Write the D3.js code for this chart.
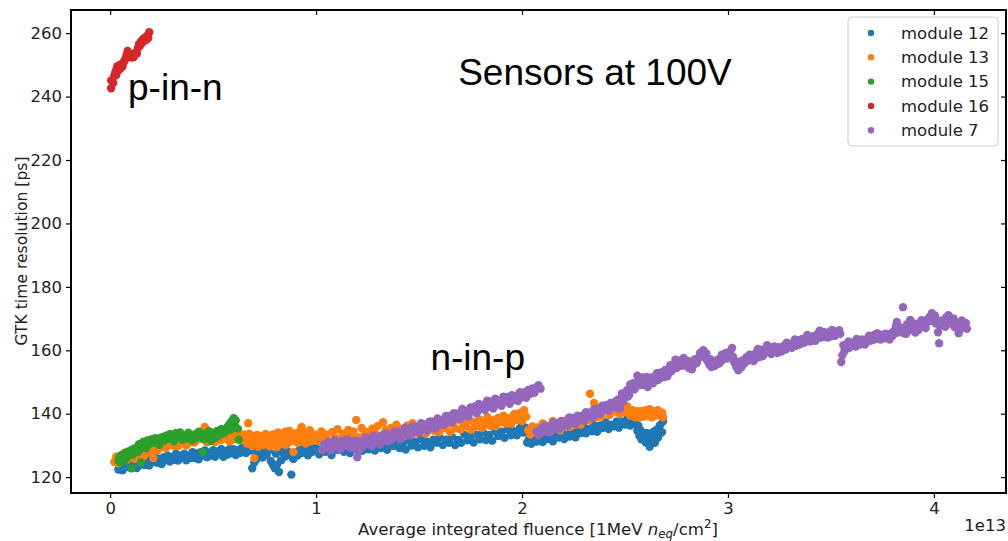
<!DOCTYPE html>
<html>
<head>
<meta charset="utf-8">
<script src="https://cdn.jsdelivr.net/npm/d3@7"></script>
<style>
  body { margin: 0; background: #fff; }
  svg { display: block; }
</style>
</head>
<body>
<svg id="chart" width="1008" height="541"></svg>
<script>
// Axis ticks
const xTicks = [0, 1, 2, 3, 4];
const yTicks = [120, 140, 160, 180, 200, 220, 240, 260];

// Series names (legend order = drawing order)
const seriesNames = ["module 12", "module 13", "module 15", "module 16", "module 7"];

// [average integrated fluence (1e13 1MeV neq/cm^2), GTK time resolution (ps)]
const module12 = [
  [0.04,122.4],[0.05,124.0],[0.06,122.2],[0.07,123.8],[0.08,123.2],[0.09,124.9],[0.10,122.9],[0.11,124.1],[0.12,125.0],[0.13,122.9],
  [0.14,124.8],[0.15,123.9],[0.16,125.8],[0.17,123.8],[0.18,124.8],[0.19,123.7],[0.20,125.8],[0.21,124.8],[0.22,126.3],[0.23,124.5],
  [0.24,125.7],[0.25,124.1],[0.26,126.3],[0.27,125.5],[0.28,126.8],[0.29,124.9],[0.30,126.2],[0.31,125.5],[0.32,127.4],[0.33,125.2],
  [0.34,126.8],[0.35,126.0],[0.36,127.4],[0.37,125.3],[0.38,126.8],[0.39,126.0],[0.40,127.9],[0.41,126.0],[0.42,127.4],[0.43,125.6],
  [0.44,127.9],[0.45,126.9],[0.46,128.4],[0.47,126.3],[0.48,127.6],[0.49,126.8],[0.50,128.5],[0.51,126.4],[0.52,128.1],[0.53,127.3],
  [0.54,128.9],[0.55,126.4],[0.56,128.2],[0.57,127.1],[0.58,128.9],[0.59,127.5],[0.60,128.8],[0.61,127.0],[0.62,128.4],[0.63,127.6],
  [0.64,129.3],[0.65,128.0],
  [0.66,127.6],[0.67,128.9],[0.68,128.4],[0.69,122.8],[0.70,124.6],[0.705,127.9],[0.71,125.6],[0.72,127.3],[0.73,128.6],[0.74,126.2],
  [0.75,127.9],[0.76,127.0],[0.77,128.4],[0.78,125.1],[0.79,124.0],[0.80,122.8],[0.805,127.4],[0.81,123.9],[0.82,121.6],[0.825,128.3],
  [0.83,125.3],[0.84,127.6],[0.85,126.5],[0.86,128.2],[0.87,127.1],[0.88,120.8],[0.885,126.2],[0.89,125.7],[0.90,127.8],[0.91,126.8],
  [0.92,128.6],[0.93,127.6],[0.94,129.0],[0.95,128.0],[0.96,126.9],[0.97,128.8],[0.98,127.9],[0.99,129.2],
  [1.000,129.2],[1.015,127.2],[1.03,128.7],[1.045,128.0],[1.06,129.9],[1.075,127.0],[1.09,129.3],[1.105,128.6],[1.12,130.0],[1.135,128.0],
  [1.15,129.2],[1.165,127.6],[1.18,130.0],[1.195,128.8],[1.21,130.6],[1.225,128.3],[1.24,129.6],[1.255,128.8],[1.27,131.2],[1.285,128.4],
  [1.30,130.2],[1.315,129.2],[1.33,130.9],[1.345,128.6],[1.36,130.7],[1.375,129.8],[1.39,131.7],[1.405,129.2],[1.42,130.5],[1.435,128.7],
  [1.45,131.5],[1.465,130.0],[1.48,131.1],[1.495,129.4],[1.51,132.0],[1.525,129.9],[1.54,131.1],[1.555,129.4],[1.57,131.8],[1.585,130.8],
  [1.60,132.5],[1.615,130.1],[1.63,131.8],[1.645,130.8],[1.66,132.7],[1.675,130.1],[1.69,131.7],[1.705,130.8],[1.72,133.4],[1.735,131.6],
  [1.75,132.9],[1.765,130.9],[1.78,133.4],[1.795,131.9],[1.81,134.2],[1.825,131.7],[1.84,133.3],[1.855,131.5],[1.87,134.3],[1.885,133.0],
  [1.90,134.3],[1.915,132.4],[1.93,135.1],[1.945,133.2],[1.96,134.5],[1.975,133.2],[1.99,135.5],[2.005,134.1],[2.015,135.7],
  [2.025,130.9],[2.035,132.3],[2.045,130.5],[2.06,131.9],[2.07,131.2],[2.085,133.0],[2.10,131.1],[2.11,132.5],[2.125,132.0],[2.14,133.5],
  [2.15,131.3],[2.165,133.2],[2.18,132.5],[2.19,134.2],[2.205,132.0],[2.22,133.5],[2.23,132.8],[2.245,134.6],[2.26,132.6],[2.27,134.5],
  [2.285,133.9],[2.30,135.8],[2.31,133.8],[2.325,135.2],[2.34,134.5],[2.35,136.4],[2.365,134.3],[2.38,136.3],[2.39,135.5],[2.405,137.3],
  [2.42,135.2],[2.43,136.5],[2.445,136.0],[2.46,137.6],[2.47,135.6],[2.485,137.4],[2.50,136.6],[2.51,138.3],[2.525,136.3],[2.54,138.0],
  [2.55,136.8],[2.56,134.6],[2.565,136.2],[2.57,133.0],[2.575,134.8],[2.58,131.9],[2.59,133.8],[2.595,132.4],[2.60,131.0],[2.605,133.9],
  [2.61,132.6],[2.615,130.6],[2.62,129.6],[2.625,131.8],[2.63,131.4],[2.635,134.2],[2.64,133.2],[2.645,130.8],[2.65,134.8],[2.655,132.6],
  [2.66,132.4],[2.665,135.6],[2.67,136.4],[2.675,134.0],[2.68,134.2],[2.685,137.6]
];

const module13 = [
  [0.02,124.8],[0.03,126.5],[0.04,124.4],[0.05,126.3],[0.06,125.9],[0.07,127.7],[0.08,125.4],[0.09,127.4],[0.10,126.2],[0.11,128.7],
  [0.12,125.8],[0.13,127.8],[0.14,127.3],[0.15,129.3],[0.16,126.4],[0.165,130.7],[0.17,129.0],[0.18,127.7],[0.19,129.9],[0.20,128.5],
  [0.21,126.0],[0.22,130.3],[0.23,128.4],[0.24,130.3],[0.25,129.6],[0.26,131.6],[0.27,129.2],[0.28,131.2],[0.29,130.3],[0.30,132.4],
  [0.31,129.9],[0.32,131.2],[0.33,129.7],[0.34,133.4],[0.35,130.9],[0.36,132.3],[0.37,130.0],[0.38,132.9],[0.39,131.1],[0.40,132.4],
  [0.41,130.9],[0.42,133.6],[0.43,131.9],[0.44,133.1],[0.45,134.6],[0.46,135.8],[0.47,131.0],[0.48,133.0],[0.49,131.6],[0.50,134.0],
  [0.51,131.1],[0.52,132.9],[0.53,134.5],[0.54,131.7],[0.55,133.4],[0.56,132.3],[0.57,134.1],[0.58,131.2],[0.59,133.3],[0.60,131.9],
  [0.61,134.7],[0.62,132.6],[0.63,133.8],[0.64,131.8],[0.65,133.4],
  [0.66,132.2],[0.665,130.6],[0.67,137.0],[0.675,133.7],[0.68,131.4],[0.69,129.8],[0.695,133.0],[0.70,126.0],[0.705,131.9],[0.71,130.2],
  [0.715,133.3],[0.72,129.6],[0.73,131.4],[0.735,132.8],[0.74,130.1],[0.75,131.6],[0.755,133.6],[0.76,130.4],[0.77,132.4],[0.775,129.7],
  [0.78,131.3],[0.79,133.5],[0.795,130.6],[0.80,132.0],[0.81,129.4],[0.815,134.1],[0.82,132.9],[0.83,130.5],[0.835,133.2],[0.84,131.6],
  [0.85,134.3],[0.855,130.2],[0.86,132.3],[0.87,134.6],[0.875,131.2],[0.88,133.3],[0.89,127.9],[0.895,131.6],[0.90,133.8],[0.91,130.8],
  [0.915,132.7],[0.92,134.4],[0.93,135.8],[0.935,131.4],[0.94,133.1],[0.95,130.6],[0.955,134.0],[0.96,132.2],[0.97,134.8],[0.975,131.3],
  [0.98,133.4],[0.99,132.0],
  [1.000,133.4],[1.013,131.3],[1.026,134.4],[1.039,132.5],[1.052,133.4],[1.065,131.1],[1.078,134.2],[1.091,132.4],[1.104,135.1],[1.117,132.0],
  [1.13,133.6],[1.143,131.7],[1.156,134.9],[1.169,133.0],[1.182,134.4],[1.195,138.0],[1.208,132.5],[1.221,135.5],[1.234,133.2],[1.247,134.2],
  [1.26,132.2],[1.273,135.3],[1.286,133.8],[1.299,136.1],[1.312,132.9],[1.325,137.3],[1.338,134.9],[1.351,132.9],[1.364,135.5],[1.377,134.1],
  [1.39,136.5],[1.403,133.6],[1.416,135.2],[1.429,133.0],[1.442,136.2],[1.455,134.4],[1.468,137.0],[1.481,133.8],[1.494,135.8],[1.507,134.8],
  [1.52,136.8],[1.533,133.7],[1.546,135.7],[1.559,137.6],[1.572,134.6],[1.585,136.5],[1.598,134.2],[1.611,137.5],[1.624,135.5],[1.637,136.7],
  [1.65,134.2],[1.663,137.3],[1.676,135.4],[1.689,138.1],[1.702,135.0],[1.715,136.8],[1.728,136.0],[1.741,138.0],[1.754,134.9],[1.767,137.3],
  [1.78,136.1],[1.793,138.2],[1.806,135.6],[1.819,137.2],[1.832,138.9],[1.845,136.2],[1.858,137.9],[1.871,136.0],[1.884,138.7],[1.897,137.3],
  [1.91,139.4],[1.923,136.9],[1.936,138.5],[1.949,136.8],[1.962,139.9],[1.975,138.1],[1.988,140.2],[2.00,137.7],[2.01,141.1],[2.02,139.1],
  [2.03,134.8],[2.04,133.4],[2.05,136.0],[2.06,134.4],[2.075,135.7],[2.085,133.6],[2.10,136.9],[2.11,135.1],[2.125,136.1],[2.135,134.3],
  [2.15,137.7],[2.16,135.4],[2.175,137.1],[2.185,134.7],[2.20,137.7],[2.21,136.5],[2.225,138.6],[2.235,135.9],[2.25,137.9],[2.26,136.6],
  [2.275,139.2],[2.285,136.6],[2.30,138.6],[2.31,140.0],[2.325,137.9],[2.33,146.3],[2.34,140.3],[2.35,143.4],[2.36,138.9],[2.375,141.7],
  [2.385,139.1],[2.40,141.1],[2.41,142.7],[2.425,139.6],[2.435,142.1],[2.45,140.7],[2.46,143.6],[2.475,139.9],[2.485,142.2],[2.50,140.5],
  [2.51,142.4],[2.525,139.4],[2.535,141.2],[2.55,138.9],[2.56,140.8],[2.57,138.8],[2.58,140.9],[2.59,139.1],[2.60,141.1],[2.61,139.4],
  [2.62,141.4],[2.63,138.9],[2.64,140.8],[2.65,139.4],[2.66,141.1],[2.67,139.5],[2.68,140.3],[2.685,138.9]
];

const module15 = [
  [0.04,125.2],[0.045,126.4],[0.05,124.6],[0.055,127.0],[0.06,125.8],[0.065,126.9],[0.07,125.3],[0.075,127.6],[0.08,126.2],[0.085,128.0],
  [0.09,126.8],[0.095,127.5],[0.10,128.4],[0.105,122.8],[0.11,127.1],[0.115,129.0],[0.12,128.2],[0.13,129.3],[0.135,127.9],[0.14,130.4],
  [0.145,128.8],[0.15,124.6],[0.155,129.7],[0.16,131.1],[0.17,130.2],[0.175,129.1],[0.18,131.6],[0.19,130.5],[0.20,131.9],[0.21,130.8],
  [0.22,132.3],[0.23,131.2],[0.24,130.2],[0.25,132.6],[0.26,131.5],[0.27,133.1],[0.28,132.0],[0.29,133.6],[0.30,132.4],[0.31,131.3],
  [0.32,133.9],[0.33,132.7],[0.34,134.1],[0.35,131.8],[0.36,133.2],[0.37,132.1],[0.38,134.0],[0.39,133.0],[0.40,131.6],[0.41,133.5],
  [0.42,132.4],[0.43,134.3],[0.44,133.2],[0.45,127.9],[0.455,131.9],[0.46,133.7],[0.47,132.8],[0.48,134.5],[0.49,131.4],[0.50,133.4],
  [0.51,132.3],[0.52,134.6],[0.53,133.1],[0.54,135.2],[0.55,133.8],[0.56,134.3],[0.57,135.9],[0.58,136.8],[0.585,134.9],[0.59,137.6],
  [0.60,138.6],[0.605,136.4],[0.61,137.9],[0.62,135.3],[0.625,131.8]
];

const module16 = [
  [0.005,242.6],[0.005,245.1],[0.015,244.3],[0.02,246.5],[0.025,247.6],[0.03,248.5],[0.03,246.8],[0.035,249.6],[0.04,248.3],[0.045,249.9],
  [0.05,248.9],[0.055,250.2],[0.06,249.5],[0.065,250.8],[0.07,251.3],[0.075,252.0],[0.08,253.1],[0.085,254.4],[0.09,253.6],[0.095,252.6],
  [0.10,253.4],[0.105,252.3],[0.11,253.0],[0.115,252.5],[0.12,253.4],[0.125,254.0],[0.13,253.6],[0.135,255.3],[0.14,256.5],[0.145,256.0],
  [0.15,257.4],[0.155,256.9],[0.16,258.2],[0.165,257.6],[0.17,258.6],[0.175,257.8],[0.18,259.2],[0.185,258.5],[0.19,260.3]
];

const module7 = [
  [1.03,128.6],[1.04,130.4],[1.05,129.2],[1.06,131.2],[1.07,128.5],[1.08,130.4],[1.09,131.7],[1.10,129.3],[1.11,130.5],[1.12,128.8],
  [1.13,131.5],[1.14,130.1],[1.15,131.9],[1.16,129.5],[1.17,131.1],[1.18,129.1],[1.19,131.6],[1.20,126.3],[1.205,130.1],[1.21,128.5],
  [1.22,131.3],[1.23,129.8],[1.24,132.4],[1.25,130.7],[1.26,132.2],[1.27,129.8],[1.28,133.1],[1.29,131.3],[1.30,132.4],[1.31,130.3],
  [1.32,133.2],[1.33,131.5],[1.34,133.8],[1.35,131.3],[1.36,132.9],[1.37,131.9],[1.38,134.3],[1.39,132.8],[1.40,134.3],[1.41,132.0],
  [1.42,134.3],[1.43,135.5],[1.44,133.3],[1.45,135.1],[1.46,133.1],[1.47,136.0],[1.48,134.4],[1.49,135.8],[1.50,134.0],[1.51,137.0],
  [1.52,135.1],[1.53,136.2],[1.54,134.6],[1.55,137.5],[1.56,136.2],[1.57,137.4],[1.58,135.3],[1.59,138.5],[1.60,136.6],[1.61,137.9],
  [1.62,136.5],[1.63,139.3],[1.64,137.7],[1.65,139.3],[1.66,137.2],[1.67,140.2],[1.68,138.8],[1.69,140.1],[1.70,138.3],[1.71,141.5],
  [1.72,139.5],[1.73,140.8],[1.74,139.1],[1.75,142.0],[1.76,140.9],[1.77,142.3],[1.78,140.1],[1.79,143.1],[1.80,141.5],[1.81,142.8],
  [1.82,141.2],[1.83,144.1],[1.84,142.4],[1.85,143.9],[1.86,141.6],[1.87,144.7],[1.88,143.0],[1.89,144.1],[1.90,142.5],[1.91,145.4],
  [1.92,144.0],[1.93,145.2],[1.94,143.1],[1.95,145.8],[1.96,144.4],[1.97,145.7],[1.98,144.0],[1.99,146.8],[2.00,145.2],[2.01,146.7],
  [2.02,145.0],[2.03,147.5],[2.04,146.3],[2.05,148.0],[2.06,146.6],[2.07,148.3],[2.08,149.0],[2.09,147.9],
  [2.07,134.4],[2.08,133.2],[2.09,135.3],[2.10,134.4],[2.11,136.3],[2.12,134.4],[2.13,135.8],[2.14,134.5],[2.15,137.2],[2.16,135.7],
  [2.17,137.0],[2.18,135.2],[2.19,137.7],[2.20,136.3],[2.21,137.5],[2.22,136.2],[2.23,138.8],[2.24,137.4],[2.25,138.7],[2.26,136.8],
  [2.27,139.4],[2.28,138.0],[2.29,139.2],[2.30,137.8],[2.31,140.5],[2.32,139.1],[2.33,140.4],[2.34,138.8],[2.35,141.4],[2.36,139.9],
  [2.37,141.4],[2.38,140.0],[2.39,142.5],[2.40,141.2],[2.41,142.7],[2.42,140.9],[2.43,143.4],[2.44,142.1],[2.45,143.7],
  [2.46,141.8],[2.465,144.4],[2.47,143.0],[2.475,141.6],[2.48,145.0],[2.485,146.4],[2.49,143.8],[2.495,144.6],[2.50,146.2],[2.51,147.4],
  [2.515,145.4],[2.52,146.0],[2.525,149.2],[2.53,148.6],[2.54,149.6],[2.545,147.6],[2.55,148.2],[2.56,152.0],[2.565,150.0],[2.57,150.4],
  [2.58,149.0],[2.585,151.4],[2.59,150.8],[2.60,149.4],[2.605,151.6],[2.61,148.4],[2.615,149.6],[2.62,150.6],[2.63,151.4],[2.635,149.6],
  [2.64,150.0],[2.65,151.8],[2.655,152.8],[2.66,150.6],[2.67,151.2],[2.675,153.0],[2.68,152.4],[2.69,151.6],[2.695,153.8],[2.70,153.4],
  [2.705,151.8],[2.71,152.6],[2.72,155.3],[2.725,153.4],[2.73,154.0],[2.74,155.6],[2.745,157.0],[2.75,154.4],[2.76,156.2],[2.765,155.0],
  [2.77,156.9],[2.78,155.2],[2.785,157.6],[2.79,156.0],[2.80,155.0],[2.805,156.6],[2.81,154.4],[2.82,156.4],[2.825,154.0],[2.83,155.6],
  [2.84,157.2],[2.845,155.8],[2.85,156.2],[2.86,157.8],[2.865,159.2],[2.87,158.5],[2.88,160.0],[2.89,157.6],[2.895,159.0],[2.90,156.6],
  [2.91,155.4],[2.915,157.2],[2.92,154.7],[2.93,156.4],[2.935,155.0],[2.94,155.4],[2.95,157.0],[2.955,155.8],[2.96,156.0],[2.97,158.6],
  [2.975,157.0],[2.98,157.8],[2.99,159.2],[2.995,157.4],[3.00,158.4],[3.01,159.6],[3.015,158.2],[3.02,160.7],[3.025,158.0],[3.03,156.2],
  [3.04,154.8],[3.045,156.4],[3.05,153.7],[3.06,155.6],[3.065,154.6],[3.07,156.8],[3.08,155.8],[3.085,157.2],[3.09,157.8],[3.10,156.8],
  [3.105,158.6],[3.11,158.4],[3.12,157.4],[3.125,156.6],[3.13,158.8],[3.14,159.4],[3.145,160.4],[3.15,157.8],[3.16,159.0],[3.165,160.2],
  [3.17,158.2],[3.18,160.4],[3.185,159.4],[3.19,161.6],[3.20,159.8],[3.205,160.8],[3.21,158.8],[3.22,160.4],[3.225,161.2],[3.23,159.6],
  [3.24,159.1],[3.245,161.0],[3.25,160.6],[3.26,159.6],[3.265,160.4],[3.27,161.4],[3.28,160.2],[3.285,162.4],[3.29,161.0],[3.30,162.0],
  [3.305,161.2],[3.31,160.8],[3.32,162.4],[3.325,163.4],[3.33,161.4],[3.34,163.2],[3.345,161.8],[3.35,162.0],[3.36,163.6],[3.365,162.8],
  [3.37,162.4],[3.38,163.0],[3.385,164.8],[3.39,164.1],[3.40,162.8],[3.405,164.0],[3.41,164.4],[3.42,163.4],[3.425,163.0],[3.43,164.8],
  [3.44,165.4],[3.445,166.2],[3.45,164.0],[3.46,165.2],[3.465,165.8],[3.47,164.2],[3.48,165.0],[3.485,164.0],[3.49,165.7],[3.50,164.4],
  [3.505,166.4],[3.51,165.6],[3.52,164.6],[3.525,165.4],[3.53,166.0],[3.54,166.3],[3.545,165.2],[3.55,156.3],[3.555,158.4],[3.56,161.6],
  [3.565,159.6],[3.57,160.2],[3.58,161.8],[3.585,162.8],[3.59,160.8],[3.60,162.4],[3.605,161.4],[3.61,162.2],[3.62,161.2],[3.625,163.6],
  [3.63,162.8],[3.64,161.8],[3.645,162.6],[3.65,163.4],[3.66,163.2],[3.665,161.8],[3.67,162.4],[3.68,163.8],[3.685,164.6],[3.69,163.0],
  [3.70,164.4],[3.705,163.2],[3.71,164.8],[3.72,163.6],[3.725,165.4],[3.73,164.4],[3.74,163.4],[3.745,164.8],[3.75,164.6],[3.76,163.8],
  [3.765,165.2],[3.77,164.8],[3.78,164.0],[3.785,163.4],[3.79,165.2],[3.80,164.6],[3.805,166.0],[3.81,165.7],[3.815,167.6],[3.82,168.9],
  [3.825,165.6],[3.83,166.4],[3.84,167.2],[3.845,166.2],[3.85,173.6],[3.855,165.4],[3.86,166.8],[3.865,165.2],[3.87,168.2],[3.88,166.2],
  [3.885,169.6],[3.89,168.6],[3.90,167.3],[3.905,168.4],[3.91,165.6],[3.92,168.4],[3.925,166.4],[3.93,167.2],[3.94,169.5],[3.945,168.2],
  [3.95,168.0],[3.96,167.0],[3.965,168.8],[3.97,169.8],[3.98,170.6],[3.985,169.2],[3.99,171.7],[4.00,170.2],[4.005,171.0],[4.01,168.4],
  [4.015,169.6],[4.02,165.7],[4.025,162.2],[4.03,167.8],[4.035,168.6],[4.04,169.4],[4.05,168.6],[4.055,167.4],[4.06,170.4],[4.07,171.1],
  [4.075,169.0],[4.08,169.6],[4.09,168.2],[4.095,170.0],[4.10,167.3],[4.11,168.8],[4.115,167.6],[4.12,165.4],[4.13,166.8],[4.135,169.4],
  [4.14,168.2],[4.15,167.9],[4.155,168.6],[4.16,166.8]
];

const seriesData = [module12, module13, module15, module16, module7];
const seriesColors = ["#1f77b4", "#ff7f0e", "#2ca02c", "#d62728", "#9467bd"];

const plot = { left: 71, right: 1006, top: 10, bottom: 493 };
const svg = d3.select("#chart");

const x = d3.scaleLinear().domain([-0.19, 4.35]).range([plot.left, plot.right]);
const y = d3.scaleLinear().domain([115, 267.3]).range([plot.bottom, plot.top]);

svg.append("clipPath").attr("id", "plot-clip")
  .append("rect")
  .attr("x", plot.left).attr("y", plot.top)
  .attr("width", plot.right - plot.left).attr("height", plot.bottom - plot.top);

// scatter series
const marks = svg.append("g").attr("clip-path", "url(#plot-clip)");
seriesData.forEach((data, i) => {
  marks.append("g")
    .selectAll("circle")
    .data(data)
    .join("circle")
    .attr("cx", d => x(d[0]))
    .attr("cy", d => y(d[1]))
    .attr("r", 4.2)
    .attr("fill", seriesColors[i]);
});

// axes: labelled bottom/left, mirrored inward ticks on top/right
const tickFont = "'DejaVu Sans', sans-serif";
function styleAxis(g) {
  g.select(".domain").remove();
  g.selectAll(".tick line").attr("stroke", "#000").attr("stroke-width", 1.2);
  g.selectAll(".tick text").attr("fill", "#222").style("font-family", tickFont).style("font-size", "16.5px");
}

svg.append("g")
  .attr("transform", `translate(0,${plot.bottom})`)
  .call(d3.axisBottom(x).tickValues(xTicks).tickFormat(d3.format("d")).tickSize(5).tickPadding(4))
  .call(styleAxis);

svg.append("g")
  .attr("transform", `translate(${plot.left},0)`)
  .call(d3.axisLeft(y).tickValues(yTicks).tickFormat(d3.format("d")).tickSize(5).tickPadding(4))
  .call(styleAxis);

svg.append("g")
  .attr("transform", `translate(0,${plot.top})`)
  .call(d3.axisBottom(x).tickValues(xTicks).tickFormat("").tickSize(5))
  .call(styleAxis);

svg.append("g")
  .attr("transform", `translate(${plot.right},0)`)
  .call(d3.axisLeft(y).tickValues(yTicks).tickFormat("").tickSize(5))
  .call(styleAxis);

// frame
svg.append("rect")
  .attr("x", plot.left).attr("y", plot.top)
  .attr("width", plot.right - plot.left).attr("height", plot.bottom - plot.top)
  .attr("fill", "none").attr("stroke", "#000").attr("stroke-width", 2);

// axis titles
const xTitle = svg.append("text")
  .attr("x", 538).attr("y", 535)
  .attr("text-anchor", "middle")
  .style("font-family", tickFont).style("font-size", "16.6px").attr("fill", "#222");
xTitle.append("tspan").text("Average integrated fluence [1MeV ");
xTitle.append("tspan").style("font-style", "italic").text("n");
xTitle.append("tspan").style("font-style", "italic").style("font-size", "11.8px").attr("dy", 3).text("eq");
xTitle.append("tspan").attr("dy", -3).text("/cm");
xTitle.append("tspan").style("font-size", "11.8px").attr("dy", -7).text("2");
xTitle.append("tspan").attr("dy", 7).text("]");

svg.append("text")
  .attr("transform", `translate(27,251) rotate(-90)`)
  .attr("text-anchor", "middle")
  .style("font-family", tickFont).style("font-size", "15.6px").attr("fill", "#222")
  .text("GTK time resolution [ps]");

svg.append("text")
  .attr("x", 1006).attr("y", 531)
  .attr("text-anchor", "end")
  .style("font-family", tickFont).style("font-size", "16.5px").attr("fill", "#222")
  .text("1e13");

// annotations
const annoFont = "'Liberation Sans', Arial, sans-serif";
[["Sensors at 100V", 1.69, 85], ["p-in-n", 0.087, 100], ["n-in-p", 1.555, 370]].forEach(([t, xv, py]) => {
  svg.append("text")
    .attr("x", x(xv)).attr("y", py)
    .style("font-family", annoFont).style("font-size", "37px").attr("fill", "#000")
    .text(t);
});

// legend
const legend = svg.append("g").attr("transform", "translate(848,17)");
legend.append("rect")
  .attr("width", 150).attr("height", 129).attr("rx", 4)
  .attr("fill", "#fff").attr("fill-opacity", 0.8)
  .attr("stroke", "#ccc").attr("stroke-width", 1);
seriesNames.forEach((name, i) => {
  const row = legend.append("g").attr("transform", `translate(0,${16 + i * 24.3})`);
  row.append("circle").attr("cx", 23).attr("cy", 0).attr("r", 3.2).attr("fill", seriesColors[i]);
  row.append("text").attr("x", 53).attr("y", 0).attr("dy", "0.35em")
    .style("font-family", tickFont).style("font-size", "16.5px").attr("fill", "#222")
    .text(name);
});
</script>
</body>
</html>
